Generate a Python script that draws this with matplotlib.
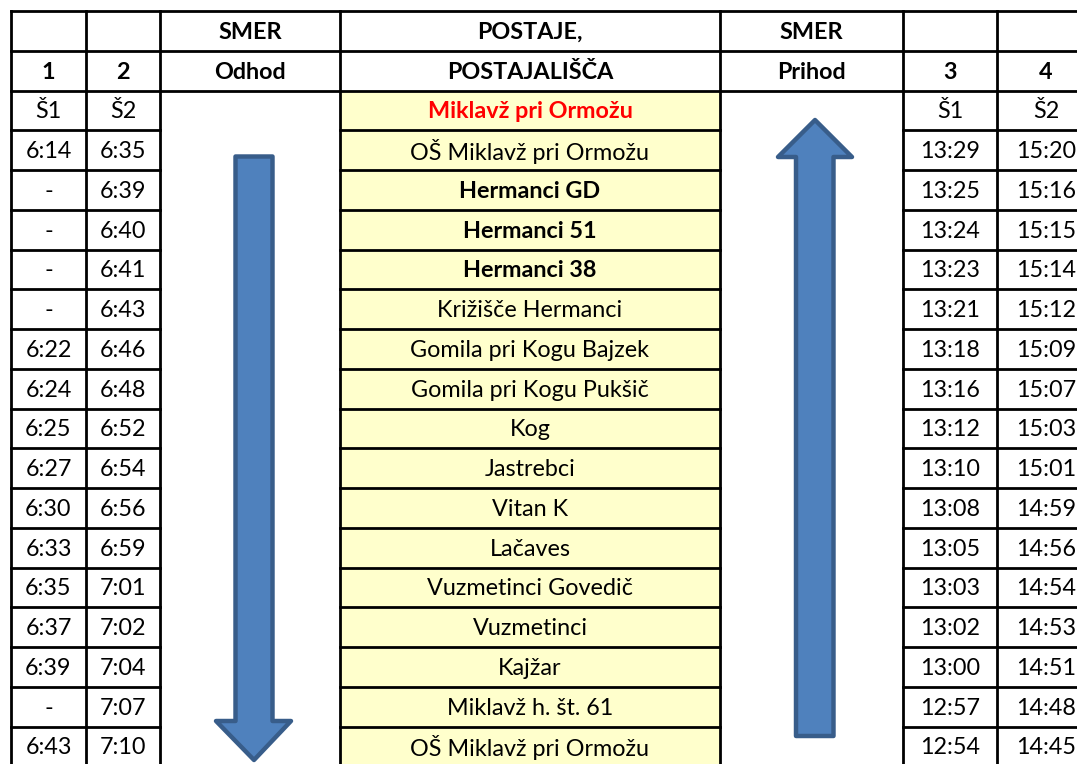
import matplotlib.pyplot as plt
from matplotlib.patches import Rectangle, Polygon

# timetable data
col1 = ['Š1', '6:14', '-', '-', '-', '-', '6:22', '6:24', '6:25', '6:27', '6:30',
        '6:33', '6:35', '6:37', '6:39', '-', '6:43']
col2 = ['Š2', '6:35', '6:39', '6:40', '6:41', '6:43', '6:46', '6:48', '6:52', '6:54',
        '6:56', '6:59', '7:01', '7:02', '7:04', '7:07', '7:10']
stations = ['Miklavž pri Ormožu', 'OŠ Miklavž pri Ormožu', 'Hermanci GD', 'Hermanci 51',
            'Hermanci 38', 'Križišče Hermanci', 'Gomila pri Kogu Bajzek',
            'Gomila pri Kogu Pukšič', 'Kog', 'Jastrebci', 'Vitan K', 'Lačaves',
            'Vuzmetinci Govedič', 'Vuzmetinci', 'Kajžar', 'Miklavž h. št. 61',
            'OŠ Miklavž pri Ormožu']
bold_rows = [0, 2, 3, 4]
col3 = ['Š1', '13:29', '13:25', '13:24', '13:23', '13:21', '13:18', '13:16', '13:12',
        '13:10', '13:08', '13:05', '13:03', '13:02', '13:00', '12:57', '12:54']
col4 = ['Š2', '15:20', '15:16', '15:15', '15:14', '15:12', '15:09', '15:07', '15:03',
        '15:01', '14:59', '14:56', '14:54', '14:53', '14:51', '14:48', '14:45']
header1 = ['', '', 'SMER', 'POSTAJE,', 'SMER', '', '']
header2 = ['1', '2', 'Odhod', 'POSTAJALIŠČA', 'Prihod', '3', '4']

# layout in pixels
xs = [11, 86, 160, 340, 720, 903, 997, 1095]
top = 11
rh = 39.75
FONT = 'Lato'
FS = 16.8
lw = 2.0

fig = plt.figure(figsize=(10.77, 7.64), dpi=100)
ax = fig.add_axes([0, 0, 1, 1])
ax.set_xlim(0, 1077)
ax.set_ylim(764, 0)
ax.axis('off')

nrows = 2 + len(stations)

def cx(c):
    return (xs[c] + xs[c + 1]) / 2

def cy(r):
    return top + rh * (r + 0.5) + 1.5

# yellow station column
for i in range(len(stations)):
    y0 = top + rh * (i + 2)
    ax.add_patch(Rectangle((xs[3], y0), xs[4] - xs[3], rh, facecolor='#FFFFCC',
                           edgecolor='none', zorder=0))

# header rows
for c in range(7):
    ax.text(cx(c), cy(0), header1[c], ha='center', va='center', fontsize=FS,
            fontweight='bold', family=FONT)
    ax.text(cx(c), cy(1), header2[c], ha='center', va='center', fontsize=FS,
            fontweight='bold', family=FONT)

# body
for i in range(len(stations)):
    r = i + 2
    for c, col in [(0, col1), (1, col2), (5, col3), (6, col4)]:
        ax.text(cx(c), cy(r), col[i], ha='center', va='center', fontsize=FS, family=FONT)
    color = 'red' if i == 0 else 'black'
    weight = 'bold' if i in bold_rows else 'normal'
    ax.text(cx(3), cy(r), stations[i], ha='center', va='center', fontsize=FS, family=FONT,
            color=color, fontweight=weight)

# grid lines
bottom = top + rh * nrows
for x in xs:
    ax.plot([x, x], [top, bottom], color='black', lw=lw, zorder=3)
for r in range(nrows + 1):
    y = top + rh * r
    if r >= 3:
        # no horizontal lines in the arrow columns
        for a, b in [(0, 2), (3, 4), (5, 7)]:
            ax.plot([xs[a], xs[b]], [y, y], color='black', lw=lw, zorder=3)
    else:
        ax.plot([xs[0], xs[-1]], [y, y], color='black', lw=lw, zorder=3)

# arrows
fill = '#4F81BD'
edge = '#385D8A'
down = Polygon([(235.5, 156.5), (272.5, 156.5), (272.5, 721), (291, 721), (254, 760),
                (216, 721), (235.5, 721)], closed=True)
up = Polygon([(815, 120), (852, 157), (833.5, 157), (833.5, 736), (796, 736),
              (796, 157), (778, 157)], closed=True)
for p in (down, up):
    p.set_facecolor(fill)
    p.set_edgecolor(edge)
    p.set_linewidth(3.2)
    p.set_joinstyle('round')
    p.set_zorder(2)
    ax.add_patch(p)

fig.savefig('out.png', dpi=100)
